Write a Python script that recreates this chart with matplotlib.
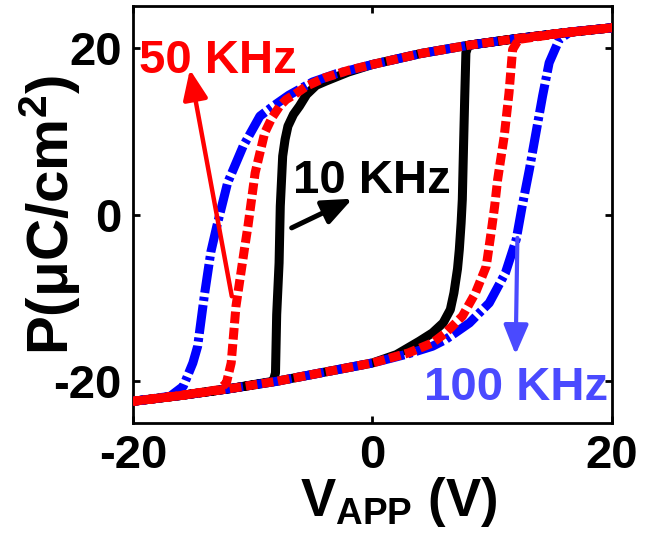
import matplotlib
matplotlib.use("Agg")
import matplotlib.pyplot as plt
from matplotlib.patches import FancyArrowPatch

plt.rcParams['font.family'] = ['Liberation Sans', 'DejaVu Sans']
plt.rcParams['font.weight'] = 'bold'
plt.rcParams['axes.unicode_minus'] = False
plt.rcParams['mathtext.fontset'] = 'custom'
plt.rcParams['mathtext.rm'] = 'Liberation Sans:bold'
plt.rcParams['mathtext.bf'] = 'Liberation Sans:bold'
plt.rcParams['mathtext.it'] = 'Liberation Sans:bold'

# ---- P-V hysteresis loops (V in volts, P in uC/cm^2) ----
# 10 kHz loop
v10 = [-20, -16, -12, -8, -4, 0, 2, 3.9, 5.0, 5.9, 6.5, 6.8, 7.1, 7.25, 7.4, 7.5, 7.6, 7.7, 7.8, 8.0,
       12, 16, 20,
       16, 12, 8, 4, 0, -2, -3.9, -4.7, -5.5, -6.1, -6.6, -7.06, -7.3, -7.5, -7.7, -7.8, -8.0, -8.1, -8.3,
       -12, -16, -20]
p10 = [-22.4, -21.7, -20.9, -20.0, -18.9, -17.8, -16.8, -15.2, -14.2, -13.0, -11.4, -9.4, -6.5, -4.2, -1.0, 1.8, 8.0, 14.0, 19.4, 20.3,
       21.1, 21.8, 22.4,
       21.8, 21.1, 20.3, 19.3, 18.0, 17.1, 16.0, 15.5, 14.4, 13.0, 12.0, 10.6, 9.0, 7.0, 1.0, -5.8, -12.0, -19.0, -20.0,
       -20.9, -21.7, -22.4]

# 50 kHz loop
v50 = [-20, -16, -12, -8, -4, 0, 3, 5, 6.1, 7.5, 8.6, 9.5, 9.9, 10.2, 10.45, 11.0, 11.4, 11.7, 12.2,
       16, 20,
       16, 12, 8, 4, 0, -2, -4, -5.5, -6.5, -7.2, -7.75, -8.4, -9.0, -9.8, -10.4, -10.7, -11.4, -11.8, -12.2, -12.8,
       -16, -20]
p50 = [-22.4, -21.7, -20.9, -20.0, -18.9, -17.8, -16.6, -15.4, -14.2, -12.2, -9.4, -6.2, -2.2, 1.0, 4.2, 9.4, 14.6, 19.8, 21.0,
       21.8, 22.4,
       21.8, 21.1, 20.3, 19.3, 18.0, 17.3, 16.4, 15.4, 14.4, 13.8, 13.0, 11.6, 9.8, 5.0, -1.4, -4.2, -11.0, -17.8, -20.2, -21.0,
       -21.7, -22.4]

# 100 kHz loop
v100 = [-20, -16, -12, -8, -4, 0, 3, 5, 6.1, 8.1, 9.75, 11.1, 12.0, 12.5, 13.1, 13.6, 14.2, 14.75, 15.6, 16.5,
        20,
        16, 12, 8, 4, 0, -3, -5, -7, -8.3, -9.4, -10.8, -12.1, -13.0, -13.5, -14.05, -14.6, -15.0, -15.8, -16.9,
        -20]
p100 = [-22.4, -21.7, -20.9, -20.0, -18.9, -17.8, -16.7, -15.8, -15.0, -13.0, -10.6, -7.0, -3.0, 1.0, 5.4, 9.4, 14.2, 18.2, 21.0, 21.9,
        22.4,
        21.8, 21.1, 20.3, 19.3, 18.0, 16.9, 15.9, 14.3, 13.0, 11.8, 8.2, 3.8, -1.4, -4.5, -9.8, -15.8, -17.8, -20.6, -21.8,
        -22.4]

x_ticks = [-20, 0, 20]
y_ticks = [-20, 0, 20]

fig = plt.figure(figsize=(6.58, 5.40), dpi=100)
ax = fig.add_axes([0.2021, 0.2167, 0.728, 0.772])

lw = 6.5
ax.plot(v10, p10, color='black', lw=lw, solid_joinstyle='round', zorder=2)
ax.plot(v100, p100, color='#0000ff', lw=lw, linestyle=(0, (3.2, 0.45, 0.45, 0.45)),
        dash_capstyle='butt', zorder=3)
ax.plot(v50, p50, color='#ff0000', lw=lw, linestyle=(0, (1.3, 0.5)),
        dash_capstyle='butt', zorder=4)

ax.set_xlim(-20, 20)
ax.set_ylim(-25, 25)
ax.set_xticks(x_ticks)
ax.set_yticks(y_ticks)
ax.tick_params(direction='in', length=5, width=2, top=True, right=True,
               labelsize=34, pad=8)
for lab in ax.get_xticklabels() + ax.get_yticklabels():
    lab.set_fontweight('bold')
for s in ax.spines.values():
    s.set_linewidth(2)

ax.set_xlabel(r'V$_{\mathrm{APP}}$ (V)', fontsize=38, fontweight='bold')
ax.xaxis.set_label_coords(0.555, -0.125)
ax.set_ylabel(r'P(μC/cm$^{\mathrm{2}}$)', fontsize=42, fontweight='bold',
              ha='center', va='center')
ax.yaxis.set_label_coords(-0.172, 0.5)

# frequency labels with arrows
ax.text(-19.5, 17.0, '50 KHz', color='#ff0000', fontsize=34, fontweight='bold',
        ha='left', va='baseline', zorder=6)
ax.text(-6.67, 2.6, '10 KHz', color='black', fontsize=34, fontweight='bold',
        ha='left', va='baseline', zorder=6)
ax.text(4.33, -22.2, '100 KHz', color='#4a4aff', fontsize=34, fontweight='bold',
        ha='left', va='baseline', zorder=6)

def arrow(tail, tip, color, lw_a):
    a = FancyArrowPatch(tail, tip, arrowstyle='-|>,head_length=1.2,head_width=0.5',
                        mutation_scale=15, color=color, lw=lw_a,
                        shrinkA=0, shrinkB=0, zorder=5)
    ax.add_patch(a)

arrow((-11.75, -9.8), (-15.25, 17.4), '#ff0000', 3.2)
arrow((-6.75, -1.6), (-1.67, 1.9), 'black', 3.6)
arrow((12.1, -2.8), (11.95, -16.8), '#4a4aff', 3.0)

fig.savefig('out.png', dpi=100)
